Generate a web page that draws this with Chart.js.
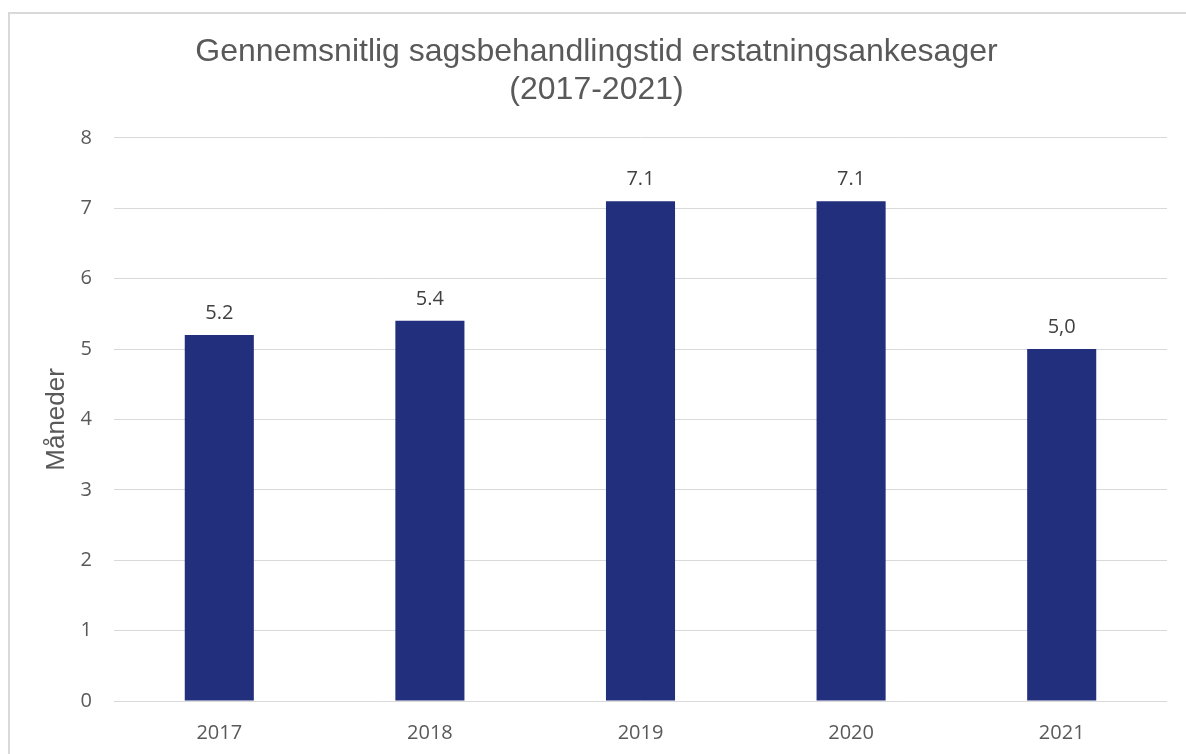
<!DOCTYPE html>
<html>
<head>
<meta charset="utf-8">
<script src="https://cdn.jsdelivr.net/npm/chart.js@4/dist/chart.umd.min.js"></script>
<style>
  body { margin: 0; background: #fff; }
  .frame { position: absolute; left: 8px; top: 12px; width: 1200px; height: 760px; border: 2px solid #d9d9d9; }
  .wrap { position: absolute; left: 0; top: 0; width: 1186px; height: 754px; }
</style>
</head>
<body>
<div class="frame"></div>
<div class="wrap"><canvas id="chart"></canvas></div>
<script>
// ── Data ──
const years  = ['2017', '2018', '2019', '2020', '2021'];
const months = [5.2, 5.4, 7.1, 7.1, 5.0];
const valueLabels = ['5.2', '5.4', '7.1', '7.1', '5,0'];

const tickFont = { family: "'Open Sans', sans-serif", size: 20 };

// ── Value labels above bars ──
const barLabels = {
  id: 'barLabels',
  afterLayout(chart){
    // title sits a little right of the canvas centre in the original
    if(chart.titleBlock){
      chart.titleBlock.left += 13;
      chart.titleBlock.right += 13;
    }
  },
  afterDatasetsDraw(chart){
    const ctx = chart.ctx;
    ctx.save();
    ctx.font = "20px 'Open Sans', sans-serif";
    ctx.fillStyle = '#404040';
    ctx.textAlign = 'center';
    ctx.textBaseline = 'middle';
    chart.getDatasetMeta(0).data.forEach((bar, i) => {
      ctx.fillText(valueLabels[i], bar.x, bar.y - 22);
    });
    ctx.restore();
  }
};

new Chart(document.getElementById('chart'), {
  type: 'bar',
  data: {
    labels: years,
    datasets: [{
      data: months,
      backgroundColor: '#212F7D',
      categoryPercentage: 1,
      barPercentage: 0.328
    }]
  },
  options: {
    responsive: true,
    maintainAspectRatio: false,
    animation: false,
    layout: { padding: { left: 0, right: 19, top: 0, bottom: 0 } },
    plugins: {
      legend: { display: false },
      tooltip: { enabled: false },
      title: {
        display: true,
        text: ['Gennemsnitlig sagsbehandlingstid erstatningsankesager', '(2017-2021)'],
        color: '#595959',
        font: { family: "'Liberation Sans', Arial, sans-serif", size: 32, weight: 'normal', lineHeight: 1.2 },
        padding: { top: 33, bottom: 28 }
      }
    },
    scales: {
      x: {
        grid: { display: false, drawTicks: false },
        border: { display: false },
        ticks: { color: '#595959', font: tickFont, padding: 20, maxRotation: 0 },
        afterFit: s => { s.height = 53; }
      },
      y: {
        min: 0,
        max: 8,
        grid: { color: '#d9d9d9', lineWidth: 1, drawTicks: false },
        border: { display: false },
        ticks: { stepSize: 1, color: '#595959', font: tickFont, padding: 22 },
        title: {
          display: true,
          text: 'Måneder',
          color: '#595959',
          font: { family: "'Liberation Sans', Arial, sans-serif", size: 26, lineHeight: 1.2 },
          padding: { top: 41, bottom: 0 }
        },
        afterFit: s => { s.width = 114; }
      }
    }
  },
  plugins: [barLabels]
});
</script>
</body>
</html>
